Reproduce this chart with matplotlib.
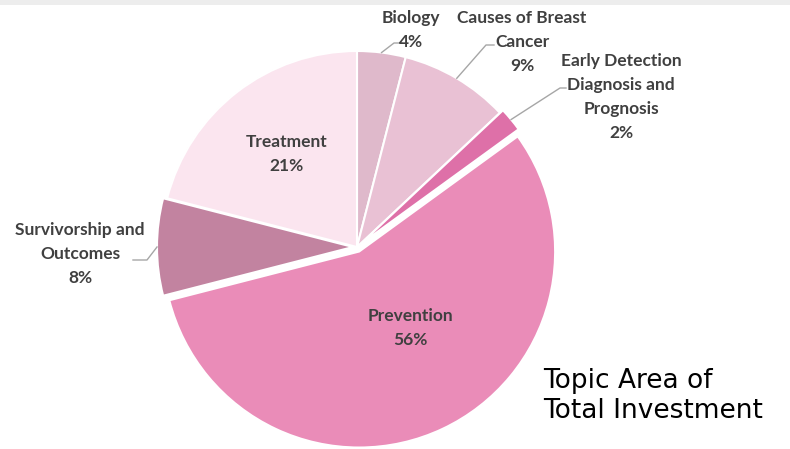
import numpy as np
import matplotlib
matplotlib.use('Agg')
import matplotlib.pyplot as plt
from matplotlib.patches import Rectangle

# data
topics = ['Biology', 'Causes of Breast\nCancer', 'Early Detection\nDiagnosis and\nPrognosis',
          'Prevention', 'Survivorship and\nOutcomes', 'Treatment']
shares = [4, 9, 2, 56, 8, 21]
colors = ['#dfb9cb', '#e9c1d4', '#de70a8', '#ea8cb8', '#c283a0', '#fbe5ef']

W, H = 790, 449
cx, cy, R = 357, 247, 196

# slice offsets (pie works in pixel units here, so explode is in px)
explode = [0, 0, 4, 5, 4, 0]

# label layout in pixels (x, y from top), inside labels have no leader
label_pos = [(411, 30), (522, 42), (621, 97), (410, 328), (80, 254), (287, 154)]
inside = [False, False, False, True, False, True]
# elbow of the leader line (x, y from top) and end of horizontal part
elbows = [((394, 43), (402, 43)), ((486, 45), (494, 45)), ((560, 88), (566, 88)),
          None, ((147, 260), (133, 260)), None]

fig = plt.figure(figsize=(W / 100, H / 100), dpi=100)
ax = fig.add_axes([0, 0, 1, 1])

wedges, _ = ax.pie(shares, colors=colors, explode=explode, startangle=90,
                   counterclock=False, center=(cx, H - cy), radius=R,
                   wedgeprops=dict(edgecolor='white', linewidth=1.5))
ax.set_xlim(0, W)
ax.set_ylim(0, H)
ax.set_aspect('equal')
ax.axis('off')

# light band along the top
ax.add_patch(Rectangle((0, H - 5), W, 5, color='#ededed', lw=0))

txt_kw = dict(fontsize=12.5, fontweight='bold', color='#404040', family=['Lato', 'DejaVu Sans'],
              ha='center', va='center', linespacing=1.6)

for i, w in enumerate(wedges):
    lx, ly = label_pos[i]
    ax.text(lx, H - ly, f'{topics[i]}\n{shares[i]}%', **txt_kw)
    if not inside[i]:
        ang = np.deg2rad((w.theta1 + w.theta2) / 2)
        ox, oy = w.center
        sx = ox + R * np.cos(ang)
        sy = oy + R * np.sin(ang)
        (ex, ey), (hx, hy) = elbows[i]
        ax.plot([sx, ex, hx], [sy, H - ey, H - hy], color='#a6a6a6', lw=1)

ax.text(543, H - 396, 'Topic Area of\nTotal Investment', fontsize=19, color='black',
        family=['DejaVu Sans'], ha='left', va='center', linespacing=1.22)

fig.savefig('out.png', dpi=100)
